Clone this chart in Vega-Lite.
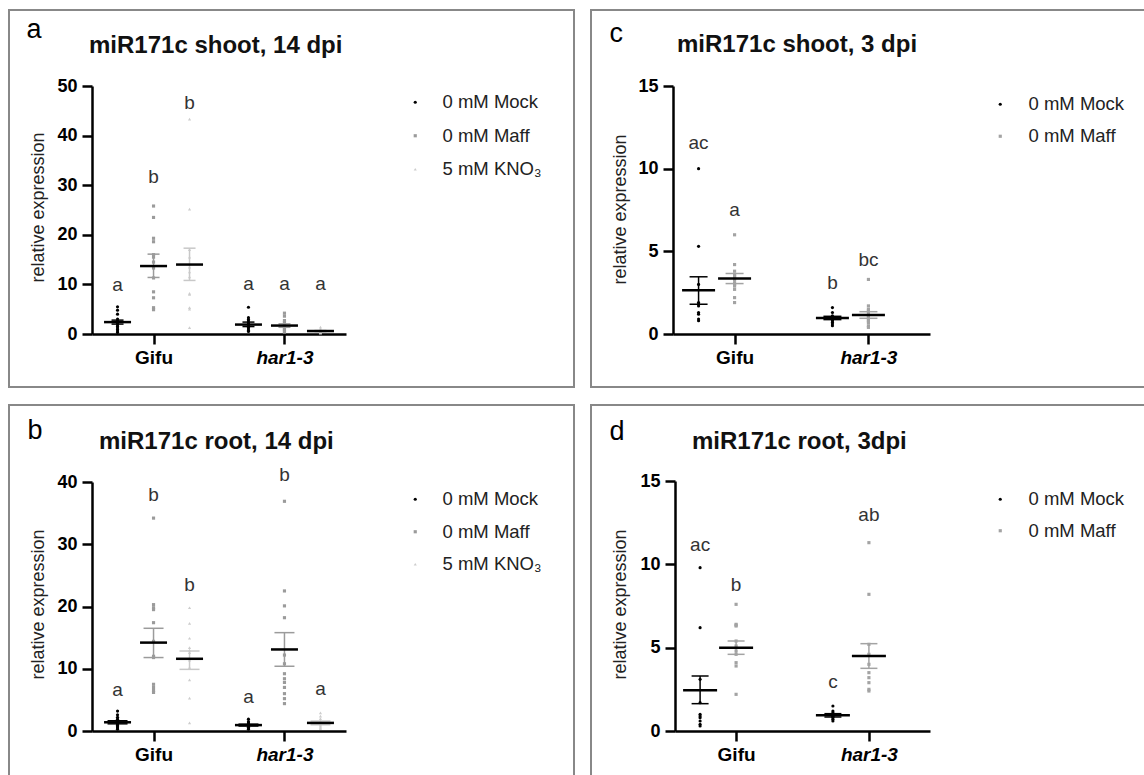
{
"$schema": "https://vega.github.io/schema/vega-lite/v6.json",
"background": "white",
"padding": {"left": 8, "top": 9, "right": 0, "bottom": 0},
"datasets": {
"pts": [
{"p":"a","g":"Gifu","t":"0 mM Mock","v":5.5},{"p":"a","g":"Gifu","t":"0 mM Mock","v":4.8},{"p":"a","g":"Gifu","t":"0 mM Mock","v":4.0},{"p":"a","g":"Gifu","t":"0 mM Mock","v":3.0},{"p":"a","g":"Gifu","t":"0 mM Mock","v":2.6},{"p":"a","g":"Gifu","t":"0 mM Mock","v":2.2},{"p":"a","g":"Gifu","t":"0 mM Mock","v":1.8},{"p":"a","g":"Gifu","t":"0 mM Mock","v":1.5},{"p":"a","g":"Gifu","t":"0 mM Mock","v":1.2},{"p":"a","g":"Gifu","t":"0 mM Mock","v":0.9},{"p":"a","g":"Gifu","t":"0 mM Mock","v":0.6},{"p":"a","g":"Gifu","t":"0 mM Mock","v":0.3},
{"p":"a","g":"Gifu","t":"0 mM Maff","v":25.8},{"p":"a","g":"Gifu","t":"0 mM Maff","v":23.5},{"p":"a","g":"Gifu","t":"0 mM Maff","v":19.3},{"p":"a","g":"Gifu","t":"0 mM Maff","v":18.6},{"p":"a","g":"Gifu","t":"0 mM Maff","v":16.0},{"p":"a","g":"Gifu","t":"0 mM Maff","v":15.5},{"p":"a","g":"Gifu","t":"0 mM Maff","v":14.5},{"p":"a","g":"Gifu","t":"0 mM Maff","v":13.3},{"p":"a","g":"Gifu","t":"0 mM Maff","v":11.3},{"p":"a","g":"Gifu","t":"0 mM Maff","v":8.5},{"p":"a","g":"Gifu","t":"0 mM Maff","v":7.3},{"p":"a","g":"Gifu","t":"0 mM Maff","v":5.3},{"p":"a","g":"Gifu","t":"0 mM Maff","v":4.9},
{"p":"a","g":"Gifu","t":"5 mM KNO\u2083","v":43.3},{"p":"a","g":"Gifu","t":"5 mM KNO\u2083","v":25.2},{"p":"a","g":"Gifu","t":"5 mM KNO\u2083","v":17.0},{"p":"a","g":"Gifu","t":"5 mM KNO\u2083","v":15.5},{"p":"a","g":"Gifu","t":"5 mM KNO\u2083","v":13.5},{"p":"a","g":"Gifu","t":"5 mM KNO\u2083","v":12.5},{"p":"a","g":"Gifu","t":"5 mM KNO\u2083","v":11.5},{"p":"a","g":"Gifu","t":"5 mM KNO\u2083","v":8.2},{"p":"a","g":"Gifu","t":"5 mM KNO\u2083","v":8.0},{"p":"a","g":"Gifu","t":"5 mM KNO\u2083","v":5.3},{"p":"a","g":"Gifu","t":"5 mM KNO\u2083","v":5.0},{"p":"a","g":"Gifu","t":"5 mM KNO\u2083","v":1.3},
{"p":"a","g":"har1-3","t":"0 mM Mock","v":5.4},{"p":"a","g":"har1-3","t":"0 mM Mock","v":3.3},{"p":"a","g":"har1-3","t":"0 mM Mock","v":2.9},{"p":"a","g":"har1-3","t":"0 mM Mock","v":2.6},{"p":"a","g":"har1-3","t":"0 mM Mock","v":2.2},{"p":"a","g":"har1-3","t":"0 mM Mock","v":2.0},{"p":"a","g":"har1-3","t":"0 mM Mock","v":1.6},{"p":"a","g":"har1-3","t":"0 mM Mock","v":1.3},{"p":"a","g":"har1-3","t":"0 mM Mock","v":1.0},{"p":"a","g":"har1-3","t":"0 mM Mock","v":0.7},{"p":"a","g":"har1-3","t":"0 mM Mock","v":0.5},
{"p":"a","g":"har1-3","t":"0 mM Maff","v":4.2},{"p":"a","g":"har1-3","t":"0 mM Maff","v":3.6},{"p":"a","g":"har1-3","t":"0 mM Maff","v":2.7},{"p":"a","g":"har1-3","t":"0 mM Maff","v":2.3},{"p":"a","g":"har1-3","t":"0 mM Maff","v":2.0},{"p":"a","g":"har1-3","t":"0 mM Maff","v":1.8},{"p":"a","g":"har1-3","t":"0 mM Maff","v":1.5},{"p":"a","g":"har1-3","t":"0 mM Maff","v":1.2},{"p":"a","g":"har1-3","t":"0 mM Maff","v":0.9},{"p":"a","g":"har1-3","t":"0 mM Maff","v":0.6},{"p":"a","g":"har1-3","t":"0 mM Maff","v":0.4},
{"p":"a","g":"har1-3","t":"5 mM KNO\u2083","v":1.4},{"p":"a","g":"har1-3","t":"5 mM KNO\u2083","v":1.0},{"p":"a","g":"har1-3","t":"5 mM KNO\u2083","v":0.8},{"p":"a","g":"har1-3","t":"5 mM KNO\u2083","v":0.6},{"p":"a","g":"har1-3","t":"5 mM KNO\u2083","v":0.5},{"p":"a","g":"har1-3","t":"5 mM KNO\u2083","v":0.4},{"p":"a","g":"har1-3","t":"5 mM KNO\u2083","v":0.3},{"p":"a","g":"har1-3","t":"5 mM KNO\u2083","v":0.2},
{"p":"b","g":"Gifu","t":"0 mM Mock","v":3.2},{"p":"b","g":"Gifu","t":"0 mM Mock","v":2.6},{"p":"b","g":"Gifu","t":"0 mM Mock","v":2.2},{"p":"b","g":"Gifu","t":"0 mM Mock","v":1.9},{"p":"b","g":"Gifu","t":"0 mM Mock","v":1.6},{"p":"b","g":"Gifu","t":"0 mM Mock","v":1.4},{"p":"b","g":"Gifu","t":"0 mM Mock","v":1.2},{"p":"b","g":"Gifu","t":"0 mM Mock","v":1.0},{"p":"b","g":"Gifu","t":"0 mM Mock","v":0.9},{"p":"b","g":"Gifu","t":"0 mM Mock","v":0.7},{"p":"b","g":"Gifu","t":"0 mM Mock","v":0.5},{"p":"b","g":"Gifu","t":"0 mM Mock","v":0.3},
{"p":"b","g":"Gifu","t":"0 mM Maff","v":34.2},{"p":"b","g":"Gifu","t":"0 mM Maff","v":20.3},{"p":"b","g":"Gifu","t":"0 mM Maff","v":19.8},{"p":"b","g":"Gifu","t":"0 mM Maff","v":19.5},{"p":"b","g":"Gifu","t":"0 mM Maff","v":17.4},{"p":"b","g":"Gifu","t":"0 mM Maff","v":14.4},{"p":"b","g":"Gifu","t":"0 mM Maff","v":12.0},{"p":"b","g":"Gifu","t":"0 mM Maff","v":11.8},{"p":"b","g":"Gifu","t":"0 mM Maff","v":7.5},{"p":"b","g":"Gifu","t":"0 mM Maff","v":7.0},{"p":"b","g":"Gifu","t":"0 mM Maff","v":6.5},{"p":"b","g":"Gifu","t":"0 mM Maff","v":6.2},
{"p":"b","g":"Gifu","t":"5 mM KNO\u2083","v":19.8},{"p":"b","g":"Gifu","t":"5 mM KNO\u2083","v":17.3},{"p":"b","g":"Gifu","t":"5 mM KNO\u2083","v":14.9},{"p":"b","g":"Gifu","t":"5 mM KNO\u2083","v":13.4},{"p":"b","g":"Gifu","t":"5 mM KNO\u2083","v":13.0},{"p":"b","g":"Gifu","t":"5 mM KNO\u2083","v":12.6},{"p":"b","g":"Gifu","t":"5 mM KNO\u2083","v":11.4},{"p":"b","g":"Gifu","t":"5 mM KNO\u2083","v":10.2},{"p":"b","g":"Gifu","t":"5 mM KNO\u2083","v":8.2},{"p":"b","g":"Gifu","t":"5 mM KNO\u2083","v":5.3},{"p":"b","g":"Gifu","t":"5 mM KNO\u2083","v":1.3},
{"p":"b","g":"har1-3","t":"0 mM Mock","v":1.9},{"p":"b","g":"har1-3","t":"0 mM Mock","v":1.5},{"p":"b","g":"har1-3","t":"0 mM Mock","v":1.3},{"p":"b","g":"har1-3","t":"0 mM Mock","v":1.1},{"p":"b","g":"har1-3","t":"0 mM Mock","v":1.0},{"p":"b","g":"har1-3","t":"0 mM Mock","v":0.9},{"p":"b","g":"har1-3","t":"0 mM Mock","v":0.8},{"p":"b","g":"har1-3","t":"0 mM Mock","v":0.6},{"p":"b","g":"har1-3","t":"0 mM Mock","v":0.5},{"p":"b","g":"har1-3","t":"0 mM Mock","v":0.3},
{"p":"b","g":"har1-3","t":"0 mM Maff","v":36.9},{"p":"b","g":"har1-3","t":"0 mM Maff","v":22.5},{"p":"b","g":"har1-3","t":"0 mM Maff","v":20.1},{"p":"b","g":"har1-3","t":"0 mM Maff","v":18.2},{"p":"b","g":"har1-3","t":"0 mM Maff","v":12.2},{"p":"b","g":"har1-3","t":"0 mM Maff","v":10.8},{"p":"b","g":"har1-3","t":"0 mM Maff","v":9.2},{"p":"b","g":"har1-3","t":"0 mM Maff","v":8.4},{"p":"b","g":"har1-3","t":"0 mM Maff","v":7.8},{"p":"b","g":"har1-3","t":"0 mM Maff","v":7.0},{"p":"b","g":"har1-3","t":"0 mM Maff","v":6.0},{"p":"b","g":"har1-3","t":"0 mM Maff","v":5.2},{"p":"b","g":"har1-3","t":"0 mM Maff","v":4.4},
{"p":"b","g":"har1-3","t":"5 mM KNO\u2083","v":2.9},{"p":"b","g":"har1-3","t":"5 mM KNO\u2083","v":2.4},{"p":"b","g":"har1-3","t":"5 mM KNO\u2083","v":2.0},{"p":"b","g":"har1-3","t":"5 mM KNO\u2083","v":1.6},{"p":"b","g":"har1-3","t":"5 mM KNO\u2083","v":1.3},{"p":"b","g":"har1-3","t":"5 mM KNO\u2083","v":1.0},{"p":"b","g":"har1-3","t":"5 mM KNO\u2083","v":0.8},{"p":"b","g":"har1-3","t":"5 mM KNO\u2083","v":0.6},{"p":"b","g":"har1-3","t":"5 mM KNO\u2083","v":0.4},
{"p":"c","g":"Gifu","t":"0 mM Mock","v":10.0},{"p":"c","g":"Gifu","t":"0 mM Mock","v":5.3},{"p":"c","g":"Gifu","t":"0 mM Mock","v":3.0},{"p":"c","g":"Gifu","t":"0 mM Mock","v":1.9},{"p":"c","g":"Gifu","t":"0 mM Mock","v":1.8},{"p":"c","g":"Gifu","t":"0 mM Mock","v":1.7},{"p":"c","g":"Gifu","t":"0 mM Mock","v":1.3},{"p":"c","g":"Gifu","t":"0 mM Mock","v":1.2},{"p":"c","g":"Gifu","t":"0 mM Mock","v":0.9},{"p":"c","g":"Gifu","t":"0 mM Mock","v":0.8},
{"p":"c","g":"Gifu","t":"0 mM Maff","v":6.0},{"p":"c","g":"Gifu","t":"0 mM Maff","v":4.2},{"p":"c","g":"Gifu","t":"0 mM Maff","v":3.8},{"p":"c","g":"Gifu","t":"0 mM Maff","v":3.6},{"p":"c","g":"Gifu","t":"0 mM Maff","v":3.5},{"p":"c","g":"Gifu","t":"0 mM Maff","v":3.4},{"p":"c","g":"Gifu","t":"0 mM Maff","v":3.3},{"p":"c","g":"Gifu","t":"0 mM Maff","v":3.1},{"p":"c","g":"Gifu","t":"0 mM Maff","v":3.0},{"p":"c","g":"Gifu","t":"0 mM Maff","v":2.9},{"p":"c","g":"Gifu","t":"0 mM Maff","v":2.7},{"p":"c","g":"Gifu","t":"0 mM Maff","v":2.2},{"p":"c","g":"Gifu","t":"0 mM Maff","v":1.9},
{"p":"c","g":"har1-3","t":"0 mM Mock","v":1.6},{"p":"c","g":"har1-3","t":"0 mM Mock","v":1.3},{"p":"c","g":"har1-3","t":"0 mM Mock","v":1.1},{"p":"c","g":"har1-3","t":"0 mM Mock","v":1.0},{"p":"c","g":"har1-3","t":"0 mM Mock","v":0.9},{"p":"c","g":"har1-3","t":"0 mM Mock","v":0.85},{"p":"c","g":"har1-3","t":"0 mM Mock","v":0.8},{"p":"c","g":"har1-3","t":"0 mM Mock","v":0.7},{"p":"c","g":"har1-3","t":"0 mM Mock","v":0.6},{"p":"c","g":"har1-3","t":"0 mM Mock","v":0.5},
{"p":"c","g":"har1-3","t":"0 mM Maff","v":3.3},{"p":"c","g":"har1-3","t":"0 mM Maff","v":1.7},{"p":"c","g":"har1-3","t":"0 mM Maff","v":1.5},{"p":"c","g":"har1-3","t":"0 mM Maff","v":1.4},{"p":"c","g":"har1-3","t":"0 mM Maff","v":1.3},{"p":"c","g":"har1-3","t":"0 mM Maff","v":1.1},{"p":"c","g":"har1-3","t":"0 mM Maff","v":1.0},{"p":"c","g":"har1-3","t":"0 mM Maff","v":0.9},{"p":"c","g":"har1-3","t":"0 mM Maff","v":0.8},{"p":"c","g":"har1-3","t":"0 mM Maff","v":0.7},{"p":"c","g":"har1-3","t":"0 mM Maff","v":0.5},{"p":"c","g":"har1-3","t":"0 mM Maff","v":0.4},
{"p":"d","g":"Gifu","t":"0 mM Mock","v":9.8},{"p":"d","g":"Gifu","t":"0 mM Mock","v":6.2},{"p":"d","g":"Gifu","t":"0 mM Mock","v":3.1},{"p":"d","g":"Gifu","t":"0 mM Mock","v":1.7},{"p":"d","g":"Gifu","t":"0 mM Mock","v":1.0},{"p":"d","g":"Gifu","t":"0 mM Mock","v":0.9},{"p":"d","g":"Gifu","t":"0 mM Mock","v":0.8},{"p":"d","g":"Gifu","t":"0 mM Mock","v":0.6},{"p":"d","g":"Gifu","t":"0 mM Mock","v":0.4},{"p":"d","g":"Gifu","t":"0 mM Mock","v":0.3},
{"p":"d","g":"Gifu","t":"0 mM Maff","v":7.6},{"p":"d","g":"Gifu","t":"0 mM Maff","v":6.4},{"p":"d","g":"Gifu","t":"0 mM Maff","v":6.35},{"p":"d","g":"Gifu","t":"0 mM Maff","v":6.3},{"p":"d","g":"Gifu","t":"0 mM Maff","v":5.4},{"p":"d","g":"Gifu","t":"0 mM Maff","v":5.1},{"p":"d","g":"Gifu","t":"0 mM Maff","v":4.8},{"p":"d","g":"Gifu","t":"0 mM Maff","v":4.6},{"p":"d","g":"Gifu","t":"0 mM Maff","v":4.1},{"p":"d","g":"Gifu","t":"0 mM Maff","v":3.9},{"p":"d","g":"Gifu","t":"0 mM Maff","v":2.2},
{"p":"d","g":"har1-3","t":"0 mM Mock","v":1.5},{"p":"d","g":"har1-3","t":"0 mM Mock","v":1.2},{"p":"d","g":"har1-3","t":"0 mM Mock","v":1.1},{"p":"d","g":"har1-3","t":"0 mM Mock","v":1.0},{"p":"d","g":"har1-3","t":"0 mM Mock","v":0.9},{"p":"d","g":"har1-3","t":"0 mM Mock","v":0.85},{"p":"d","g":"har1-3","t":"0 mM Mock","v":0.8},{"p":"d","g":"har1-3","t":"0 mM Mock","v":0.7},{"p":"d","g":"har1-3","t":"0 mM Mock","v":0.6},
{"p":"d","g":"har1-3","t":"0 mM Maff","v":11.3},{"p":"d","g":"har1-3","t":"0 mM Maff","v":8.2},{"p":"d","g":"har1-3","t":"0 mM Maff","v":5.2},{"p":"d","g":"har1-3","t":"0 mM Maff","v":4.6},{"p":"d","g":"har1-3","t":"0 mM Maff","v":4.0},{"p":"d","g":"har1-3","t":"0 mM Maff","v":3.5},{"p":"d","g":"har1-3","t":"0 mM Maff","v":3.2},{"p":"d","g":"har1-3","t":"0 mM Maff","v":2.9},{"p":"d","g":"har1-3","t":"0 mM Maff","v":2.5},{"p":"d","g":"har1-3","t":"0 mM Maff","v":2.4}
],
"stats": [
{"p":"a","g":"Gifu","t":"0 mM Mock","mean":2.4,"lo":2.0,"hi":2.8},
{"p":"a","g":"Gifu","t":"0 mM Maff","mean":13.7,"lo":11.4,"hi":16.1},
{"p":"a","g":"Gifu","t":"5 mM KNO\u2083","mean":14.0,"lo":10.8,"hi":17.3},
{"p":"a","g":"har1-3","t":"0 mM Mock","mean":1.9,"lo":1.5,"hi":2.4},
{"p":"a","g":"har1-3","t":"0 mM Maff","mean":1.7,"lo":1.35,"hi":2.05},
{"p":"a","g":"har1-3","t":"5 mM KNO\u2083","mean":0.6,"lo":0.48,"hi":0.72},
{"p":"b","g":"Gifu","t":"0 mM Mock","mean":1.4,"lo":1.15,"hi":1.65},
{"p":"b","g":"Gifu","t":"0 mM Maff","mean":14.2,"lo":11.8,"hi":16.5},
{"p":"b","g":"Gifu","t":"5 mM KNO\u2083","mean":11.6,"lo":9.9,"hi":12.85},
{"p":"b","g":"har1-3","t":"0 mM Mock","mean":0.95,"lo":0.8,"hi":1.1},
{"p":"b","g":"har1-3","t":"0 mM Maff","mean":13.1,"lo":10.4,"hi":15.8},
{"p":"b","g":"har1-3","t":"5 mM KNO\u2083","mean":1.3,"lo":1.0,"hi":1.6},
{"p":"c","g":"Gifu","t":"0 mM Mock","mean":2.65,"lo":1.8,"hi":3.46},
{"p":"c","g":"Gifu","t":"0 mM Maff","mean":3.36,"lo":3.05,"hi":3.66},
{"p":"c","g":"har1-3","t":"0 mM Mock","mean":0.97,"lo":0.87,"hi":1.07},
{"p":"c","g":"har1-3","t":"0 mM Maff","mean":1.15,"lo":0.95,"hi":1.35},
{"p":"d","g":"Gifu","t":"0 mM Mock","mean":2.44,"lo":1.64,"hi":3.3},
{"p":"d","g":"Gifu","t":"0 mM Maff","mean":5.0,"lo":4.6,"hi":5.4},
{"p":"d","g":"har1-3","t":"0 mM Mock","mean":0.94,"lo":0.84,"hi":1.04},
{"p":"d","g":"har1-3","t":"0 mM Maff","mean":4.5,"lo":3.76,"hi":5.24}
],
"lets": [
{"p":"a","g":"Gifu","t":"0 mM Mock","txt":"a","ly":8.7},
{"p":"a","g":"Gifu","t":"0 mM Maff","txt":"b","ly":30.5},
{"p":"a","g":"Gifu","t":"5 mM KNO\u2083","txt":"b","ly":45.3},
{"p":"a","g":"har1-3","t":"0 mM Mock","txt":"a","ly":8.8},
{"p":"a","g":"har1-3","t":"0 mM Maff","txt":"a","ly":8.8},
{"p":"a","g":"har1-3","t":"5 mM KNO\u2083","txt":"a","ly":8.8},
{"p":"b","g":"Gifu","t":"0 mM Mock","txt":"a","ly":5.6},
{"p":"b","g":"Gifu","t":"0 mM Maff","txt":"b","ly":36.9},
{"p":"b","g":"Gifu","t":"5 mM KNO\u2083","txt":"b","ly":22.5},
{"p":"b","g":"har1-3","t":"0 mM Mock","txt":"a","ly":4.5},
{"p":"b","g":"har1-3","t":"0 mM Maff","txt":"b","ly":40.2},
{"p":"b","g":"har1-3","t":"5 mM KNO\u2083","txt":"a","ly":5.8},
{"p":"c","g":"Gifu","t":"0 mM Mock","txt":"ac","ly":11.2},
{"p":"c","g":"Gifu","t":"0 mM Maff","txt":"a","ly":7.15},
{"p":"c","g":"har1-3","t":"0 mM Mock","txt":"b","ly":2.7},
{"p":"c","g":"har1-3","t":"0 mM Maff","txt":"bc","ly":4.1},
{"p":"d","g":"Gifu","t":"0 mM Mock","txt":"ac","ly":10.8},
{"p":"d","g":"Gifu","t":"0 mM Maff","txt":"b","ly":8.4},
{"p":"d","g":"har1-3","t":"0 mM Mock","txt":"c","ly":2.6},
{"p":"d","g":"har1-3","t":"0 mM Maff","txt":"ab","ly":12.6}
]
},
"vconcat": [
{"hconcat": [
{
"width": 565, "height": 377,
"title": {"text": "miR171c shoot, 14 dpi", "orient": "bottom", "anchor": "start", "frame": "group", "offset": 0, "dx": 80, "dy": -334, "baseline": "alphabetic", "font": "Liberation Sans", "fontSize": 24, "fontWeight": "bold", "color": "#111"},
"encoding": {
"x": {"field": "g", "type": "nominal", "scale": {"type": "point", "domain": ["Gifu", "har1-3"], "range": [83, 337], "padding": 0.47},
 "axis": {"orient": "bottom", "offset": -53, "title": "a", "titleX": 17, "titleY": -297, "titleAlign": "left", "titleBaseline": "alphabetic", "titleAngle": 0, "titleFontSize": 27, "titleFontWeight": "normal", "titleColor": "#000", "labelFontSize": 19, "labelPadding": 4, "labelAngle": 0, "labelFontStyle": {"condition": {"test": "datum.value == 'har1-3'", "value": "italic"}, "value": "normal"}}},
"xOffset": {"field": "t", "type": "nominal", "scale": {"type": "point", "domain": ["0 mM Mock", "0 mM Maff", "5 mM KNO\u2083"], "range": [-36, 36], "padding": 0}}
},
"layer": [
{"data": {"name": "pts"}, "transform": [{"filter": "datum.p == 'a'"}],
 "mark": {"type": "point", "filled": true, "size": 10, "opacity": 1, "strokeWidth": 0},
 "encoding": {
 "y": {"field": "v", "type": "quantitative", "title": "relative expression", "scale": {"domain": [0, 50], "range": [324, 76], "nice": false}, "axis": {"orient": "left", "offset": -83, "values": [0, 10, 20, 30, 40, 50], "titleX": -54, "titleY": 197, "titleAngle": 270, "titleAlign": "center", "titleBaseline": "middle", "titleFontSize": 18, "titleFontWeight": "normal", "titleColor": "#222", "labelPadding": 5}},
 "color": {"field": "t", "type": "nominal", "scale": {"domain": ["0 mM Mock", "0 mM Maff", "5 mM KNO\u2083"], "range": ["#000000", "#9b9b9b", "#cdcdcd"]}, "legend": {"title": null, "orient": "none", "legendX": 397, "legendY": 83, "rowPadding": 14.5, "labelOffset": 18}},
 "shape": {"field": "t", "type": "nominal", "scale": {"domain": ["0 mM Mock", "0 mM Maff", "5 mM KNO\u2083"], "range": ["circle", "square", "triangle-up"]}, "legend": {"title": null, "orient": "none", "legendX": 397, "legendY": 83, "rowPadding": 14.5, "labelOffset": 18}}
 }},
{"data": {"name": "stats"}, "transform": [{"filter": "datum.p == 'a'"}],
 "mark": {"type": "rule", "strokeWidth": 1.5, "opacity": 1},
 "encoding": {"y": {"field": "lo", "type": "quantitative", "title": "relative expression"}, "y2": {"field": "hi"},
 "color": {"condition": [{"test": "datum.t == '0 mM Mock'", "value": "#000000"}, {"test": "datum.t == '0 mM Maff'", "value": "#9b9b9b"}], "value": "#c8c8c8"}}},
{"data": {"name": "stats"}, "transform": [{"filter": "datum.p == 'a'"}],
 "mark": {"type": "tick", "orient": "horizontal", "size": 12, "thickness": 1.5, "opacity": 1},
 "encoding": {"y": {"field": "lo", "type": "quantitative", "title": "relative expression"},
 "color": {"condition": [{"test": "datum.t == '0 mM Mock'", "value": "#000000"}, {"test": "datum.t == '0 mM Maff'", "value": "#9b9b9b"}], "value": "#c8c8c8"}}},
{"data": {"name": "stats"}, "transform": [{"filter": "datum.p == 'a'"}],
 "mark": {"type": "tick", "orient": "horizontal", "size": 12, "thickness": 1.5, "opacity": 1},
 "encoding": {"y": {"field": "hi", "type": "quantitative", "title": "relative expression"},
 "color": {"condition": [{"test": "datum.t == '0 mM Mock'", "value": "#000000"}, {"test": "datum.t == '0 mM Maff'", "value": "#9b9b9b"}], "value": "#c8c8c8"}}},
{"data": {"name": "stats"}, "transform": [{"filter": "datum.p == 'a'"}],
 "mark": {"type": "tick", "orient": "horizontal", "size": 27, "thickness": 2.5, "color": "#000000", "opacity": 1},
 "encoding": {"y": {"field": "mean", "type": "quantitative", "title": "relative expression"}}},
{"data": {"name": "lets"}, "transform": [{"filter": "datum.p == 'a'"}],
 "mark": {"type": "text", "align": "center", "baseline": "alphabetic", "font": "Liberation Sans", "fontSize": 19, "color": "#333"},
 "encoding": {"y": {"field": "ly", "type": "quantitative", "title": "relative expression"}, "text": {"field": "txt"}}}
]
},
{
"width": 565, "height": 377,
"title": {"text": "miR171c shoot, 3 dpi", "orient": "bottom", "anchor": "start", "frame": "group", "offset": 0, "dx": 86, "dy": -335, "baseline": "alphabetic", "font": "Liberation Sans", "fontSize": 24, "fontWeight": "bold", "color": "#111"},
"encoding": {
"x": {"field": "g", "type": "nominal", "scale": {"type": "point", "domain": ["Gifu", "har1-3"], "range": [82, 339], "padding": 0.46},
 "axis": {"orient": "bottom", "offset": -53, "title": "c", "titleX": 18, "titleY": -293, "titleAlign": "left", "titleBaseline": "alphabetic", "titleAngle": 0, "titleFontSize": 27, "titleFontWeight": "normal", "titleColor": "#000", "labelFontSize": 19, "labelPadding": 4, "labelAngle": 0, "labelFontStyle": {"condition": {"test": "datum.value == 'har1-3'", "value": "italic"}, "value": "normal"}}},
"xOffset": {"field": "t", "type": "nominal", "scale": {"type": "point", "domain": ["0 mM Mock", "0 mM Maff"], "range": [-25, 25], "padding": 0}}
},
"layer": [
{"data": {"name": "pts"}, "transform": [{"filter": "datum.p == 'c'"}],
 "mark": {"type": "point", "filled": true, "size": 10, "opacity": 1, "strokeWidth": 0},
 "encoding": {
 "y": {"field": "v", "type": "quantitative", "title": "relative expression", "scale": {"domain": [0, 15], "range": [324, 76], "nice": false}, "axis": {"orient": "left", "offset": -82, "values": [0, 5, 10, 15], "titleX": -53, "titleY": 199, "titleAngle": 270, "titleAlign": "center", "titleBaseline": "middle", "titleFontSize": 18, "titleFontWeight": "normal", "titleColor": "#222", "labelPadding": 5}},
 "color": {"field": "t", "type": "nominal", "scale": {"domain": ["0 mM Mock", "0 mM Maff"], "range": ["#000000", "#a3a3a3"]}, "legend": {"title": null, "orient": "none", "legendX": 400, "legendY": 85, "rowPadding": 13, "labelOffset": 19}},
 "shape": {"field": "t", "type": "nominal", "scale": {"domain": ["0 mM Mock", "0 mM Maff"], "range": ["circle", "square"]}, "legend": {"title": null, "orient": "none", "legendX": 400, "legendY": 85, "rowPadding": 13, "labelOffset": 19}}
 }},
{"data": {"name": "stats"}, "transform": [{"filter": "datum.p == 'c'"}],
 "mark": {"type": "rule", "strokeWidth": 1.5, "opacity": 1},
 "encoding": {"y": {"field": "lo", "type": "quantitative", "title": "relative expression"}, "y2": {"field": "hi"},
 "color": {"condition": [{"test": "datum.t == '0 mM Mock'", "value": "#000000"}], "value": "#a3a3a3"}}},
{"data": {"name": "stats"}, "transform": [{"filter": "datum.p == 'c'"}],
 "mark": {"type": "tick", "orient": "horizontal", "size": 18, "thickness": 1.5, "opacity": 1},
 "encoding": {"y": {"field": "lo", "type": "quantitative", "title": "relative expression"},
 "color": {"condition": [{"test": "datum.t == '0 mM Mock'", "value": "#000000"}], "value": "#a3a3a3"}}},
{"data": {"name": "stats"}, "transform": [{"filter": "datum.p == 'c'"}],
 "mark": {"type": "tick", "orient": "horizontal", "size": 18, "thickness": 1.5, "opacity": 1},
 "encoding": {"y": {"field": "hi", "type": "quantitative", "title": "relative expression"},
 "color": {"condition": [{"test": "datum.t == '0 mM Mock'", "value": "#000000"}], "value": "#a3a3a3"}}},
{"data": {"name": "stats"}, "transform": [{"filter": "datum.p == 'c'"}],
 "mark": {"type": "tick", "orient": "horizontal", "size": 33, "thickness": 2.5, "color": "#000000", "opacity": 1},
 "encoding": {"y": {"field": "mean", "type": "quantitative", "title": "relative expression"}}},
{"data": {"name": "lets"}, "transform": [{"filter": "datum.p == 'c'"}],
 "mark": {"type": "text", "align": "center", "baseline": "alphabetic", "font": "Liberation Sans", "fontSize": 19, "color": "#333"},
 "encoding": {"y": {"field": "ly", "type": "quantitative", "title": "relative expression"}, "text": {"field": "txt"}}}
]
}
], "spacing": 15,
"resolve": {"scale": {"color": "independent", "shape": "independent"}, "legend": {"color": "independent", "shape": "independent"}}},
{"hconcat": [
{
"width": 565, "height": 377,
"title": {"text": "miR171c root, 14 dpi", "orient": "bottom", "anchor": "start", "frame": "group", "offset": 0, "dx": 90, "dy": -333, "baseline": "alphabetic", "font": "Liberation Sans", "fontSize": 24, "fontWeight": "bold", "color": "#111"},
"encoding": {
"x": {"field": "g", "type": "nominal", "scale": {"type": "point", "domain": ["Gifu", "har1-3"], "range": [83, 337], "padding": 0.47},
 "axis": {"orient": "bottom", "offset": -51, "title": "b", "titleX": 18, "titleY": -293, "titleAlign": "left", "titleBaseline": "alphabetic", "titleAngle": 0, "titleFontSize": 27, "titleFontWeight": "normal", "titleColor": "#000", "labelFontSize": 19, "labelPadding": 4, "labelAngle": 0, "labelFontStyle": {"condition": {"test": "datum.value == 'har1-3'", "value": "italic"}, "value": "normal"}}},
"xOffset": {"field": "t", "type": "nominal", "scale": {"type": "point", "domain": ["0 mM Mock", "0 mM Maff", "5 mM KNO\u2083"], "range": [-36, 36], "padding": 0}}
},
"layer": [
{"data": {"name": "pts"}, "transform": [{"filter": "datum.p == 'b'"}],
 "mark": {"type": "point", "filled": true, "size": 10, "opacity": 1, "strokeWidth": 0},
 "encoding": {
 "y": {"field": "v", "type": "quantitative", "title": "relative expression", "scale": {"domain": [0, 40], "range": [326, 77], "nice": false}, "axis": {"orient": "left", "offset": -83, "values": [0, 10, 20, 30, 40], "titleX": -54, "titleY": 199, "titleAngle": 270, "titleAlign": "center", "titleBaseline": "middle", "titleFontSize": 18, "titleFontWeight": "normal", "titleColor": "#222", "labelPadding": 5}},
 "color": {"field": "t", "type": "nominal", "scale": {"domain": ["0 mM Mock", "0 mM Maff", "5 mM KNO\u2083"], "range": ["#000000", "#9b9b9b", "#cdcdcd"]}, "legend": {"title": null, "orient": "none", "legendX": 397, "legendY": 85, "rowPadding": 13.5, "labelOffset": 18}},
 "shape": {"field": "t", "type": "nominal", "scale": {"domain": ["0 mM Mock", "0 mM Maff", "5 mM KNO\u2083"], "range": ["circle", "square", "triangle-up"]}, "legend": {"title": null, "orient": "none", "legendX": 397, "legendY": 85, "rowPadding": 13.5, "labelOffset": 18}}
 }},
{"data": {"name": "stats"}, "transform": [{"filter": "datum.p == 'b'"}],
 "mark": {"type": "rule", "strokeWidth": 1.5, "opacity": 1},
 "encoding": {"y": {"field": "lo", "type": "quantitative", "title": "relative expression"}, "y2": {"field": "hi"},
 "color": {"condition": [{"test": "datum.t == '0 mM Mock'", "value": "#000000"}, {"test": "datum.t == '0 mM Maff'", "value": "#9b9b9b"}], "value": "#c8c8c8"}}},
{"data": {"name": "stats"}, "transform": [{"filter": "datum.p == 'b'"}],
 "mark": {"type": "tick", "orient": "horizontal", "size": 20, "thickness": 1.5, "opacity": 1},
 "encoding": {"y": {"field": "lo", "type": "quantitative", "title": "relative expression"},
 "color": {"condition": [{"test": "datum.t == '0 mM Mock'", "value": "#000000"}, {"test": "datum.t == '0 mM Maff'", "value": "#9b9b9b"}], "value": "#c8c8c8"}}},
{"data": {"name": "stats"}, "transform": [{"filter": "datum.p == 'b'"}],
 "mark": {"type": "tick", "orient": "horizontal", "size": 20, "thickness": 1.5, "opacity": 1},
 "encoding": {"y": {"field": "hi", "type": "quantitative", "title": "relative expression"},
 "color": {"condition": [{"test": "datum.t == '0 mM Mock'", "value": "#000000"}, {"test": "datum.t == '0 mM Maff'", "value": "#9b9b9b"}], "value": "#c8c8c8"}}},
{"data": {"name": "stats"}, "transform": [{"filter": "datum.p == 'b'"}],
 "mark": {"type": "tick", "orient": "horizontal", "size": 27, "thickness": 2.5, "color": "#000000", "opacity": 1},
 "encoding": {"y": {"field": "mean", "type": "quantitative", "title": "relative expression"}}},
{"data": {"name": "lets"}, "transform": [{"filter": "datum.p == 'b'"}],
 "mark": {"type": "text", "align": "center", "baseline": "alphabetic", "font": "Liberation Sans", "fontSize": 19, "color": "#333"},
 "encoding": {"y": {"field": "ly", "type": "quantitative", "title": "relative expression"}, "text": {"field": "txt"}}}
]
},
{
"width": 565, "height": 377,
"title": {"text": "miR171c root, 3dpi", "orient": "bottom", "anchor": "start", "frame": "group", "offset": 0, "dx": 101, "dy": -333, "baseline": "alphabetic", "font": "Liberation Sans", "fontSize": 24, "fontWeight": "bold", "color": "#111"},
"encoding": {
"x": {"field": "g", "type": "nominal", "scale": {"type": "point", "domain": ["Gifu", "har1-3"], "range": [84, 339], "padding": 0.46},
 "axis": {"orient": "bottom", "offset": -51, "title": "d", "titleX": 18, "titleY": -292, "titleAlign": "left", "titleBaseline": "alphabetic", "titleAngle": 0, "titleFontSize": 27, "titleFontWeight": "normal", "titleColor": "#000", "labelFontSize": 19, "labelPadding": 4, "labelAngle": 0, "labelFontStyle": {"condition": {"test": "datum.value == 'har1-3'", "value": "italic"}, "value": "normal"}}},
"xOffset": {"field": "t", "type": "nominal", "scale": {"type": "point", "domain": ["0 mM Mock", "0 mM Maff"], "range": [-25, 25], "padding": 0}}
},
"layer": [
{"data": {"name": "pts"}, "transform": [{"filter": "datum.p == 'd'"}],
 "mark": {"type": "point", "filled": true, "size": 10, "opacity": 1, "strokeWidth": 0},
 "encoding": {
 "y": {"field": "v", "type": "quantitative", "title": "relative expression", "scale": {"domain": [0, 15], "range": [326, 76], "nice": false}, "axis": {"orient": "left", "offset": -84, "values": [0, 5, 10, 15], "titleX": -55, "titleY": 199, "titleAngle": 270, "titleAlign": "center", "titleBaseline": "middle", "titleFontSize": 18, "titleFontWeight": "normal", "titleColor": "#222", "labelPadding": 5}},
 "color": {"field": "t", "type": "nominal", "scale": {"domain": ["0 mM Mock", "0 mM Maff"], "range": ["#000000", "#a3a3a3"]}, "legend": {"title": null, "orient": "none", "legendX": 400, "legendY": 85, "rowPadding": 12.5, "labelOffset": 19}},
 "shape": {"field": "t", "type": "nominal", "scale": {"domain": ["0 mM Mock", "0 mM Maff"], "range": ["circle", "square"]}, "legend": {"title": null, "orient": "none", "legendX": 400, "legendY": 85, "rowPadding": 12.5, "labelOffset": 19}}
 }},
{"data": {"name": "stats"}, "transform": [{"filter": "datum.p == 'd'"}],
 "mark": {"type": "rule", "strokeWidth": 1.5, "opacity": 1},
 "encoding": {"y": {"field": "lo", "type": "quantitative", "title": "relative expression"}, "y2": {"field": "hi"},
 "color": {"condition": [{"test": "datum.t == '0 mM Mock'", "value": "#000000"}], "value": "#a3a3a3"}}},
{"data": {"name": "stats"}, "transform": [{"filter": "datum.p == 'd'"}],
 "mark": {"type": "tick", "orient": "horizontal", "size": 17, "thickness": 1.5, "opacity": 1},
 "encoding": {"y": {"field": "lo", "type": "quantitative", "title": "relative expression"},
 "color": {"condition": [{"test": "datum.t == '0 mM Mock'", "value": "#000000"}], "value": "#a3a3a3"}}},
{"data": {"name": "stats"}, "transform": [{"filter": "datum.p == 'd'"}],
 "mark": {"type": "tick", "orient": "horizontal", "size": 17, "thickness": 1.5, "opacity": 1},
 "encoding": {"y": {"field": "hi", "type": "quantitative", "title": "relative expression"},
 "color": {"condition": [{"test": "datum.t == '0 mM Mock'", "value": "#000000"}], "value": "#a3a3a3"}}},
{"data": {"name": "stats"}, "transform": [{"filter": "datum.p == 'd'"}],
 "mark": {"type": "tick", "orient": "horizontal", "size": 34, "thickness": 2.5, "color": "#000000", "opacity": 1},
 "encoding": {"y": {"field": "mean", "type": "quantitative", "title": "relative expression"}}},
{"data": {"name": "lets"}, "transform": [{"filter": "datum.p == 'd'"}],
 "mark": {"type": "text", "align": "center", "baseline": "alphabetic", "font": "Liberation Sans", "fontSize": 19, "color": "#333"},
 "encoding": {"y": {"field": "ly", "type": "quantitative", "title": "relative expression"}, "text": {"field": "txt"}}}
]
}
], "spacing": 15,
"resolve": {"scale": {"color": "independent", "shape": "independent"}, "legend": {"color": "independent", "shape": "independent"}}}
],
"spacing": 16,
"resolve": {"scale": {"color": "independent", "shape": "independent"}, "legend": {"color": "independent", "shape": "independent"}},
"config": {
"view": {"stroke": "#888888", "strokeWidth": 2},
"axis": {"grid": false, "domainColor": "#000000", "domainWidth": 2.5, "tickColor": "#000000", "tickWidth": 2.5, "tickSize": 10, "labelFont": "Liberation Sans", "labelFontWeight": "bold", "labelColor": "#000000", "labelFontSize": 18, "titleFont": "Liberation Sans"},
"legend": {"labelFont": "Liberation Sans", "labelFontSize": 18.5, "labelColor": "#222222", "symbolSize": 10, "symbolStrokeWidth": 0, "padding": 0, "symbolOpacity": 1},
"text": {"font": "Liberation Sans"}
}
}
